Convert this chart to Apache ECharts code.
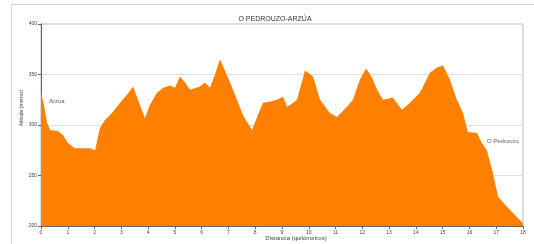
<!DOCTYPE html>
<html><head><meta charset="utf-8">
<script src="https://cdn.jsdelivr.net/npm/echarts@6/dist/echarts.min.js"></script>
<style>html,body{margin:0;padding:0;background:#fff}#c{width:534px;height:244px}</style>
</head><body><div id="c"></div>
<script>
var titleText = 'O PEDROUZO-ARZÚA';
var xName = 'Distancia (quilómetros)';
var yName = 'Altitude (metros)';
var distKm = [0,0.11,0.22,0.34,0.63,0.82,1.01,1.27,1.83,2.02,2.20,2.39,2.65,2.95,3.21,3.44,3.62,3.88,4.07,4.33,4.56,4.82,5.00,5.19,5.38,5.56,5.94,6.12,6.31,6.50,6.68,6.87,7.06,7.32,7.54,7.88,8.10,8.29,8.55,8.81,9.04,9.19,9.37,9.56,9.86,10.16,10.42,10.79,11.05,11.43,11.65,11.91,12.14,12.36,12.55,12.77,13.14,13.48,13.78,14.15,14.53,14.79,15.01,15.27,15.53,15.76,15.94,16.28,16.47,16.65,16.88,17.07,17.40,17.77,18.00];
var altitude = [332,320,303,295,294,290,282,277,277,275,297,305,312,322,330,338,325,307,320,332,337,339,337,348,342,335,338,342,337,350,365,354,342,325,310,295,310,322,323,325,328,318,321,325,354,348,325,312,308,318,325,345,356,347,335,325,327,315,322,332,352,357,359,345,325,312,293,292,282,275,252,229,219,209,203];
var placeNames = ['Arzúa','O Pedrouzo'];
var placeKm = [0,16.28];
var placeAlt = [332,292];
var yTicks = [200,250,300,350,400];

var chart = echarts.init(document.getElementById('c'));
var series = [{
  type:'line', data: distKm.map(function(d,i){return [d, altitude[i]];}),
  symbol:'none', lineStyle:{width:0}, itemStyle:{color:'#FF8000'},
  areaStyle:{color:'#FF8000', opacity:1}, silent:true
},{
  type:'scatter', symbolSize:0,
  data: placeNames.map(function(n,i){return {value:[placeKm[i],placeAlt[i]], name:n};}),
  label:{show:true, formatter:'{b}', fontSize:6, color:'#333', fontFamily:'Liberation Sans'},
  z:5
}];
series[1].data[0].label = {position:'right', offset:[3,9]};
series[1].data[1].label = {position:'right', offset:[5,8]};
chart.setOption({
  animation:false,
  title:{text:titleText, left:270, top:11, textAlign:'center',
    textStyle:{fontSize:7, fontWeight:'normal', color:'#333', fontFamily:'Liberation Sans'}},
  grid:{left:41, right:11, top:24, bottom:18, show:true, borderColor:'#bbb', borderWidth:1},
  xAxis:{type:'value', min:0, max:18, interval:1,
    axisLine:{show:true, lineStyle:{color:'#666'}},
    axisTick:{show:true, length:3, lineStyle:{color:'#666'}},
    axisLabel:{fontSize:5, color:'#444', margin:4},
    splitLine:{show:false}},
  yAxis:{type:'value', min:yTicks[0], max:yTicks[yTicks.length-1], interval:50,
    axisLine:{show:true, lineStyle:{color:'#666'}},
    axisTick:{show:true, length:3, lineStyle:{color:'#666'}},
    axisLabel:{fontSize:5, color:'#444', margin:4},
    splitLine:{show:true, lineStyle:{color:'#ddd'}}},
  graphic:[
    {type:'rect', shape:{x:11.5, y:4.5, width:540, height:260}, style:{fill:null, stroke:'#d8d8d8', lineWidth:1}, silent:true},
    {type:'text', x:22, y:108, rotation:Math.PI/2, style:{text:yName, fontSize:5, fill:'#444', textAlign:'center', textVerticalAlign:'middle', fontFamily:'Liberation Sans'}},
    {type:'text', x:296, y:238, style:{text:xName, fontSize:6, fill:'#444', textAlign:'center', textVerticalAlign:'middle', fontFamily:'Liberation Sans'}}
  ],
  series:series
});
</script></body></html>
